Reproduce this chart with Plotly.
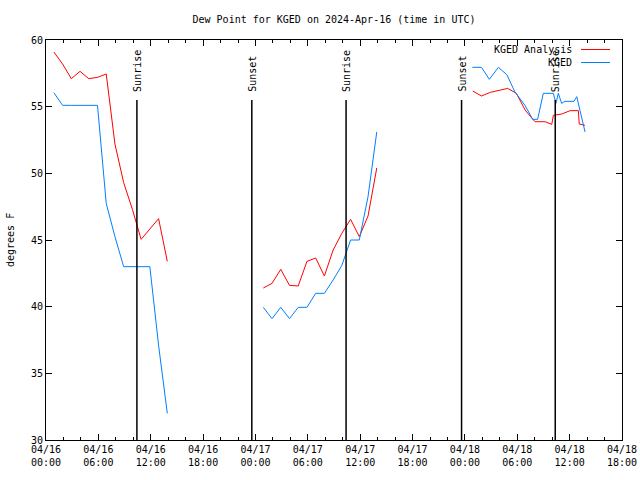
import plotly.graph_objects as go

# ---------------- data ----------------
title_text = "Dew Point for KGED on 2024-Apr-16 (time in UTC)"
y_title = "degrees F"

analysis_name = "KGED Analysis"
obs_name = "KGED"

# analysis (red) -- three segments separated by None
analysis_time = [
    "2024-04-16 00:54", "2024-04-16 01:54", "2024-04-16 02:54", "2024-04-16 03:54",
    "2024-04-16 04:54", "2024-04-16 05:54", "2024-04-16 06:54", "2024-04-16 07:54",
    "2024-04-16 08:54", "2024-04-16 09:54", "2024-04-16 10:54", "2024-04-16 11:54",
    "2024-04-16 12:54", "2024-04-16 13:54",
    None,
    "2024-04-17 00:54", "2024-04-17 01:54", "2024-04-17 02:54", "2024-04-17 03:54",
    "2024-04-17 04:54", "2024-04-17 05:54", "2024-04-17 06:54", "2024-04-17 07:54",
    "2024-04-17 08:54", "2024-04-17 09:54", "2024-04-17 10:54", "2024-04-17 11:54",
    "2024-04-17 12:54", "2024-04-17 13:54",
    None,
    "2024-04-18 00:54", "2024-04-18 01:54", "2024-04-18 02:54", "2024-04-18 03:54",
    "2024-04-18 04:54", "2024-04-18 05:54", "2024-04-18 06:54", "2024-04-18 07:28",
    "2024-04-18 08:02", "2024-04-18 09:12", "2024-04-18 09:57", "2024-04-18 10:08",
    "2024-04-18 11:06", "2024-04-18 12:03", "2024-04-18 13:00", "2024-04-18 13:06",
    "2024-04-18 13:45",
]
analysis_dewpt = [
    59.1, 58.2, 57.1, 57.65, 57.1, 57.2, 57.45, 52.2, 49.3, 47.3, 45.05, 45.85, 46.6, 43.4,
    None,
    41.4, 41.75, 42.8, 41.6, 41.55, 43.4, 43.65, 42.3, 44.25, 45.5, 46.55, 45.25, 46.8, 50.4,
    None,
    56.17, 55.8, 56.07, 56.2, 56.37, 56.0, 54.75, 54.3, 53.87, 53.87, 53.67, 54.35,
    54.45, 54.7, 54.7, 53.7, 53.6,
]

# observations (blue)
obs_time = [
    "2024-04-16 00:54", "2024-04-16 01:54", "2024-04-16 02:54", "2024-04-16 03:54",
    "2024-04-16 04:54", "2024-04-16 05:54", "2024-04-16 06:54", "2024-04-16 07:54",
    "2024-04-16 08:54", "2024-04-16 09:54", "2024-04-16 10:54", "2024-04-16 11:54",
    "2024-04-16 12:54", "2024-04-16 13:54",
    None,
    "2024-04-17 00:54", "2024-04-17 01:54", "2024-04-17 02:54", "2024-04-17 03:54",
    "2024-04-17 04:54", "2024-04-17 05:54", "2024-04-17 06:54", "2024-04-17 07:54",
    "2024-04-17 08:54", "2024-04-17 09:54", "2024-04-17 10:54", "2024-04-17 11:54",
    "2024-04-17 12:54", "2024-04-17 13:54",
    None,
    "2024-04-18 00:51", "2024-04-18 01:54", "2024-04-18 02:48", "2024-04-18 03:50",
    "2024-04-18 04:48", "2024-04-18 05:44", "2024-04-18 06:53", "2024-04-18 07:46",
    "2024-04-18 08:20", "2024-04-18 08:59", "2024-04-18 10:08", "2024-04-18 10:26",
    "2024-04-18 10:42", "2024-04-18 11:05", "2024-04-18 11:28", "2024-04-18 12:30",
    "2024-04-18 12:49", "2024-04-18 13:07", "2024-04-18 13:46",
]
obs_dewpt = [
    56.05, 55.1, 55.1, 55.1, 55.1, 55.1, 47.75, 45.25, 43.0, 43.0, 43.0, 43.0, 37.1, 32.0,
    None,
    39.95, 39.1, 39.95, 39.1, 39.95, 39.95, 41.0, 41.0, 42.0, 43.1, 45.0, 45.0, 48.25, 53.1,
    None,
    57.95, 57.95, 57.05, 57.95, 57.4, 56.1, 55.1, 54.05, 54.05, 56.0, 56.0, 55.25,
    56.0, 55.25, 55.4, 55.4, 55.75, 54.9, 53.1,
]

# sun events
sun_labels = ["Sunrise", "Sunset", "Sunrise", "Sunset", "Sunrise"]
sun_times = ["2024-04-16 10:25", "2024-04-16 23:35", "2024-04-17 10:23",
             "2024-04-17 23:37", "2024-04-18 10:21"]
sun_line_top = 55.5

# x axis ticks
tick_times = ["2024-04-16 00:00", "2024-04-16 06:00", "2024-04-16 12:00", "2024-04-16 18:00",
              "2024-04-17 00:00", "2024-04-17 06:00", "2024-04-17 12:00", "2024-04-17 18:00",
              "2024-04-18 00:00", "2024-04-18 06:00", "2024-04-18 12:00", "2024-04-18 18:00"]
tick_text = ["04/16<br>00:00", "04/16<br>06:00", "04/16<br>12:00", "04/16<br>18:00",
             "04/17<br>00:00", "04/17<br>06:00", "04/17<br>12:00", "04/17<br>18:00",
             "04/18<br>00:00", "04/18<br>06:00", "04/18<br>12:00", "04/18<br>18:00"]
x_range = ["2024-04-16 00:00", "2024-04-18 18:00"]
y_range = [30, 60]

RED = "#ff0000"
BLUE = "#0080ff"
FONT = "DejaVu Sans Mono"

FIG_W, FIG_H = 640, 480
L, T, W, H = 46, 40, 576, 400   # plot area in page pixels

# ---------------- figure ----------------
fig = go.Figure()
fig.add_trace(go.Scatter(x=analysis_time, y=analysis_dewpt, mode="lines", name=analysis_name,
                         line=dict(color=RED, width=1), connectgaps=False, showlegend=False))
fig.add_trace(go.Scatter(x=obs_time, y=obs_dewpt, mode="lines", name=obs_name,
                         line=dict(color=BLUE, width=1), connectgaps=False, showlegend=False))

for lab, t in zip(sun_labels, sun_times):
    fig.add_shape(type="line", xref="x", yref="y", x0=t, x1=t, y0=y_range[0], y1=sun_line_top,
                  line=dict(color="black", width=1.5))
    fig.add_annotation(x=t, y=sun_line_top, xref="x", yref="y", text=lab, textangle=-90,
                       showarrow=False, xanchor="center", yanchor="bottom", yshift=6,
                       font=dict(family=FONT, size=10, color="black"))

def px(xp):
    return (xp - L) / W

def py(yp):
    return (T + H - yp) / H

# manual legend (gnuplot style: text then line sample), top right
for name, col, ypix in [(analysis_name, RED, 49.5), (obs_name, BLUE, 62.5)]:
    fig.add_annotation(x=px(574), y=py(ypix), xref="paper", yref="paper", text=name,
                       showarrow=False, xanchor="right", yanchor="middle",
                       font=dict(family=FONT, size=10, color="black"))
    fig.add_shape(type="line", xref="paper", yref="paper", x0=px(581), x1=px(610),
                  y0=py(ypix), y1=py(ypix), line=dict(color=col, width=1))

fig.add_annotation(x=px(10), y=0.5, xref="paper", yref="paper", text=y_title, textangle=-90,
                   showarrow=False, xanchor="center", yanchor="middle",
                   font=dict(family=FONT, size=10, color="black"))

fig.update_layout(
    width=FIG_W, height=FIG_H,
    margin=dict(l=L, r=FIG_W - L - W, t=T, b=FIG_H - T - H, pad=0),
    paper_bgcolor="white", plot_bgcolor="white",
    font=dict(family=FONT, size=10, color="black"),
    title=dict(text=title_text, x=0.5, xref="paper", xanchor="center",
               y=1 - 19 / FIG_H, yref="container", yanchor="middle",
               font=dict(family=FONT, size=10, color="black")),
    showlegend=False,
)
fig.update_xaxes(type="date", range=x_range, tickmode="array", tickvals=tick_times,
                 ticktext=tick_text, ticks="inside", ticklen=6, tickwidth=1, tickcolor="black",
                 showline=True, linecolor="black", linewidth=1, mirror="ticks",
                 showgrid=False, zeroline=False, automargin=False,
                 minor=dict(ticks="inside", ticklen=3, tickcolor="black", dtick=7200000,
                            tick0="2024-04-16 00:00", showgrid=False),
                 tickfont=dict(family=FONT, size=10, color="black"))
fig.update_yaxes(range=y_range, dtick=5, ticks="inside", ticklen=6, tickwidth=1,
                 tickcolor="black", showline=True, linecolor="black", linewidth=1,
                 mirror="ticks", showgrid=False, zeroline=False, automargin=False,
                 tickfont=dict(family=FONT, size=10, color="black"))

fig.write_html(
    "out.html",
    config={"displayModeBar": False, "staticPlot": True},
    post_script="document.body.style.margin='0';document.body.style.overflow='hidden';",
)
